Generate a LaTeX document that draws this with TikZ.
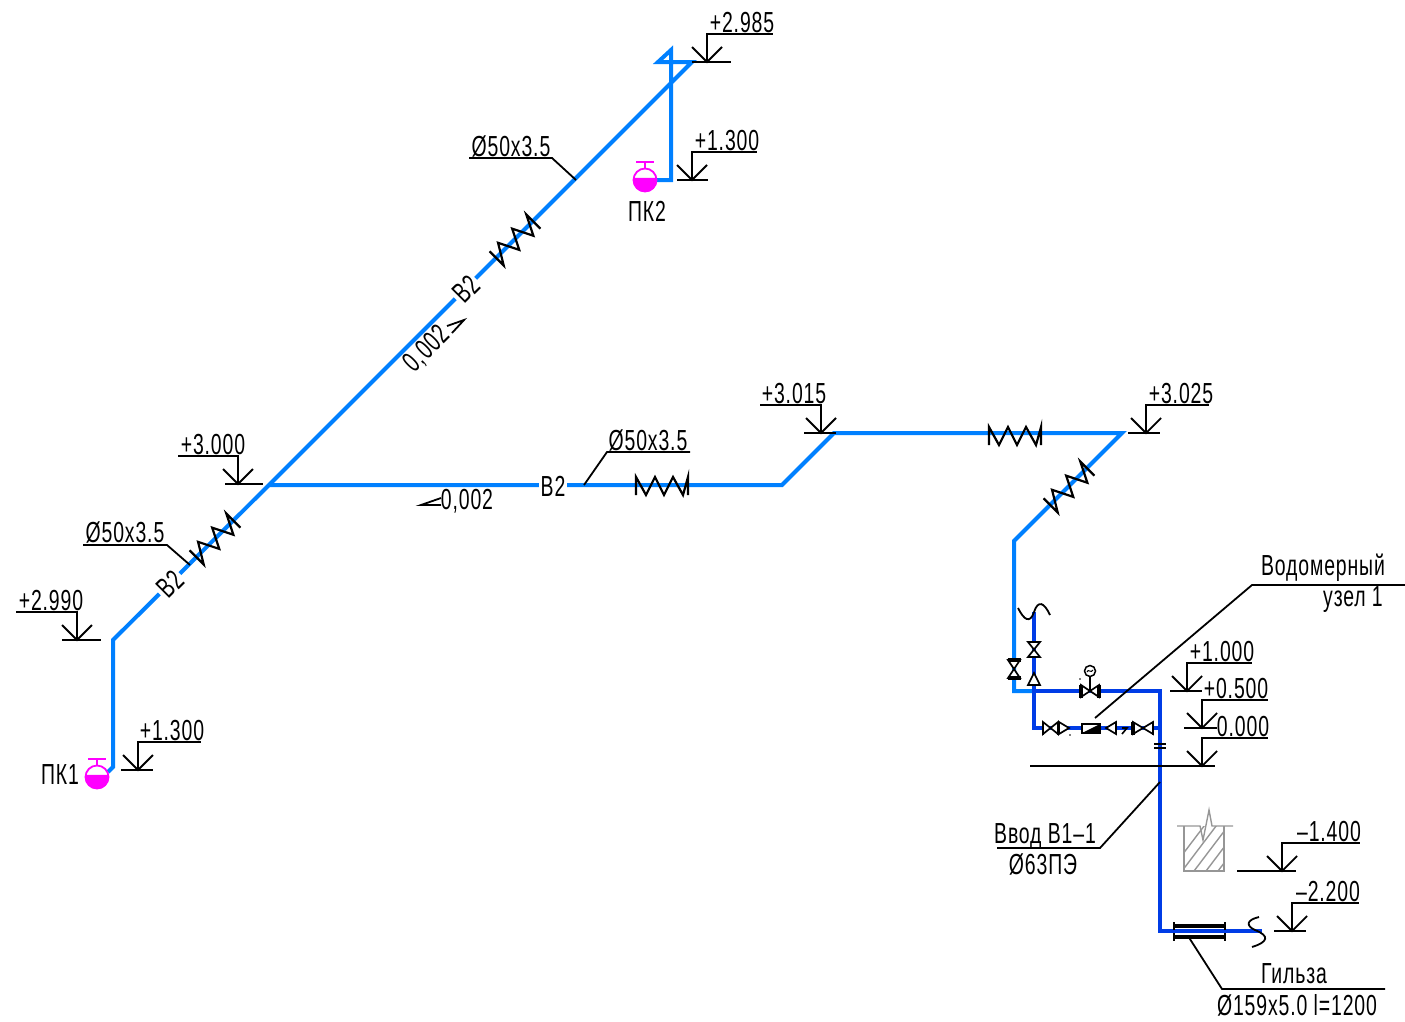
\documentclass[tikz,border=0pt]{standalone}
\usepackage{fontspec}
\setmainfont[FakeStretch=0.67,LetterSpace=3]{Liberation Sans}
\definecolor{pipeblue}{RGB}{0,128,255}
\definecolor{inletblue}{RGB}{0,60,230}
\definecolor{wallgrey}{RGB}{150,150,150}
\definecolor{tapcolor}{RGB}{255,0,255}
\tikzset{
  pipe/.style={line width=4pt,color=pipeblue,line join=miter},
  inlet/.style={line width=4pt,color=inletblue,line join=miter},
  thin line/.style={line width=1.8pt,color=black},
  lbl/.style={font=\fontsize{29}{29}\selectfont,inner sep=0pt},
  pipelbl/.style={lbl,fill=white,inner xsep=2pt,inner ysep=1pt},
  bellows/.pic={\draw[line width=2.2pt] (-26,9) -- (-26,-9) -- (-16,9) -- (-7,-9) -- (2,9) -- (11,-9) -- (21,9) -- (26,-9) -- (26,9);},
  bellowsdiag/.pic={\draw[line width=2.2pt] (-26,-10) -- (-26,10) -- (-14,-10) -- (-4,10) -- (6,-10) -- (16,10) -- (26,-10) -- (26,10);},
  valve/.pic={\draw[line width=1.7pt,fill=white] (-9,-6) -- (9,6) -- (9,-6) -- (-9,6) -- cycle;
    \draw[line width=3.4pt] (-9,-6.5) -- (-9,6.5) (9,-6.5) -- (9,6.5);},
  check/.pic={\draw[line width=1.7pt,fill=white] (-5,-6) -- (5,0) -- (-5,6) -- cycle;},
  tap/.pic={\draw[tapcolor,line width=1.8pt,fill=white] (0,0) circle (11.5);
    \fill[tapcolor] (190:12) arc (190:-10:12) -- cycle;
    \draw[tapcolor,line width=1.8pt] (0,-11) -- (0,-18) (-9,-18) -- (9,-18);},
}
% level mark: base from, axis, base to, level of base, end of the shelf, text, name, text centre
\newcommand{\levelmark}[8]{
  \draw[thin line] (#1,#4) -- (#3,#4);
  \draw[thin line] (#2-15,#4-15) -- (#2,#4) -- (#2+15,#4-15);
  \draw[thin line] (#2,#4) -- (#2,#4-28) -- (#5,#4-28);
  \node[lbl] (#7) at (#8,#4-39) {#6};
}
\begin{document}
\begin{tikzpicture}[x=1pt,y=-1pt]
\useasboundingbox (0,0) rectangle (1405,1021);
% pipes
\coordinate (tee) at (269,485);
\coordinate (top) at (692,62);
\draw[pipe] (108,772) -- (113,767) -- (113,640) -- (tee) -- (top) -- (658,62) -- (671,50) -- (671,180) -- (655,180);
\draw[pipe] (tee) -- (782,485) -- (834,433) -- (1122,433) -- (1014,541) -- (1014,691) -- (1034,691);
\draw[inlet] (1034,691) -- (1160,691) -- (1160,931) -- (1262,931);
\draw[inlet] (1034,612) -- (1034,728) -- (1160,728);
% taps
\pic at (97,777) {tap};
\pic at (645,180) {tap};
\node[lbl] (pk1) at (60,775) {ПК1};
\node[lbl] (pk2) at (647,211) {ПК2};
% bellows
\pic[rotate=45] at (515,240) {bellowsdiag};
\pic[rotate=45] at (215,539) {bellowsdiag};
\pic at (662,486) {bellows};
\pic at (1015,436) {bellows};
\pic[rotate=45] at (1069,487) {bellowsdiag};
% pipe labels
\node[pipelbl,rotate=45] (b2a) at (466,289) {В2};
\node[pipelbl,rotate=45] (b2b) at (170,584) {В2};
\node[pipelbl] (b2c) at (553,486) {В2};
\node[lbl,rotate=45] (slopea) at (427,349) {0,002};
\node[lbl] (slopeb) at (467,501) {0,002};
\draw[thin line] (447,326) -- (464,320) -- (452,333);
\draw[thin line] (441,498) -- (421,505) -- (441,505);
% levels
\levelmark{692}{707}{731}{62}{773}{+2.985}{la}{742}
\levelmark{677}{692}{708}{180}{757}{+1.300}{lb}{727}
\levelmark{1128}{1146}{1160}{433}{1209}{+3.025}{lc}{1181}
\levelmark{225}{238}{263}{484}{178}{+3.000}{ld}{213}
\levelmark{62}{77}{101}{640}{16}{+2.990}{le}{51}
\levelmark{804}{821}{836}{433}{760}{+3.015}{lf}{794}
\levelmark{121}{138}{153}{770}{201}{+1.300}{lg}{172}
\levelmark{1170}{1187}{1202}{691}{1252}{+1.000}{lh}{1222}
\levelmark{1184}{1202}{1217}{728}{1268}{+0.500}{li}{1236}
\levelmark{1030}{1202}{1215}{766}{1268}{0.000}{lj}{1243}
\levelmark{1237}{1282}{1296}{871}{1360}{--1.400}{lk}{1329}
\levelmark{1274}{1292}{1306}{931}{1359}{--2.200}{ll}{1328}
% leaders
\node[lbl] (dia) at (511,146) {Ø50x3.5};
\draw[thin line] (469,158) -- (552,158) -- (576,180);
\node[lbl] (dib) at (125,532) {Ø50x3.5};
\draw[thin line] (83,545) -- (167,545) -- (190,565);
\node[lbl] (dic) at (648,440) {Ø50x3.5};
\draw[thin line] (690,452) -- (607,452) -- (584,485);
\node[lbl] (meter) at (1323,568) {Водомерный};
\node[lbl] (meterb) at (1353,600) {узел 1};
\draw[thin line] (1405,585) -- (1252,585) -- (1095,718);
\node[lbl] (entry) at (1045,836) {Ввод В1--1};
\node[lbl] (entryb) at (1043,864) {Ø63ПЭ};
\draw[thin line] (997,848) -- (1100,848) -- (1160,782);
\node[lbl] (sleeve) at (1294,974) {Гильза};
\node[lbl] (sleeveb) at (1297,1005) {Ø159x5.0 l=1200};
\draw[thin line] (1385,989) -- (1222,989) -- (1188,936);
% sleeve
\draw[line width=3.2pt] (1174,926) -- (1225,926) (1174,937) -- (1225,937);
\draw[line width=2.4pt] (1174,922) -- (1174,930) (1225,922) -- (1225,930) (1174,933) -- (1174,941) (1225,933) -- (1225,941);
% breaks
\draw[thin line] (1018,608) .. controls (1024,620) and (1030,624) .. (1034,612) .. controls (1038,600) and (1044,602) .. (1050,615);
\draw[thin line] (1259,917) .. controls (1246,920) and (1246,926) .. (1255,930) .. controls (1270,936) and (1268,942) .. (1252,947);
% wall
\begin{scope}[wallgrey,line width=1.4pt]
\draw (1177,826) -- (1200,826) -- (1203,840) -- (1209,810) -- (1212,826) -- (1233,826);
\draw (1184,826) -- (1184,871) -- (1224,871) -- (1224,826);
\clip (1184,826) rectangle (1224,871);
\foreach \hx in {1170,1182,...,1250} \draw (\hx,871) -- (\hx+50,805);
\end{scope}
% fittings
\pic[rotate=90] at (1014,669) {valve};
\draw[line width=1.7pt,fill=white] (1028,642) -- (1040,657) -- (1028,657) -- (1040,642) -- cycle;
\draw[line width=1.7pt,fill=white] (1034,673) -- (1040,685) -- (1028,685) -- cycle;
\pic at (1090,691) {valve};
\draw[line width=1.7pt] (1090,691) -- (1090,676);
\draw[line width=1.5pt,fill=white] (1090,671) circle (5.5);
\draw[line width=1pt] (1087,672) .. controls (1088,668) and (1091,674) .. (1093,670);
\fill (1080,679) circle (0.8);
\draw[line width=1.7pt,fill=white] (1043,722) -- (1058,734) -- (1058,722) -- (1043,734) -- cycle;
\draw[line width=2.8pt] (1043,722) -- (1043,735) (1058,722) -- (1058,735);
\pic at (1064,728) {check};
\fill (1070,735) circle (0.9);
\draw[line width=1.5pt,fill=white] (1082,724) rectangle (1100,733);
\fill (1082,733) -- (1100,724) -- (1100,733) -- cycle;
\draw[line width=1.7pt,fill=white] (1106,728) -- (1116,722) -- (1116,734) -- cycle;
\draw[line width=1.6pt] (1122,728) -- (1127,728) -- (1122,734);
\draw[line width=1.7pt,fill=white] (1133,722) -- (1153,734) -- (1153,722) -- (1133,734) -- cycle;
\draw[line width=3.6pt] (1133,722) -- (1133,735);
\draw[line width=2.6pt] (1153,722) -- (1153,735);
\draw[line width=2.4pt] (1154,744) -- (1166,744) (1154,748) -- (1166,748);
\end{tikzpicture}
\end{document}
